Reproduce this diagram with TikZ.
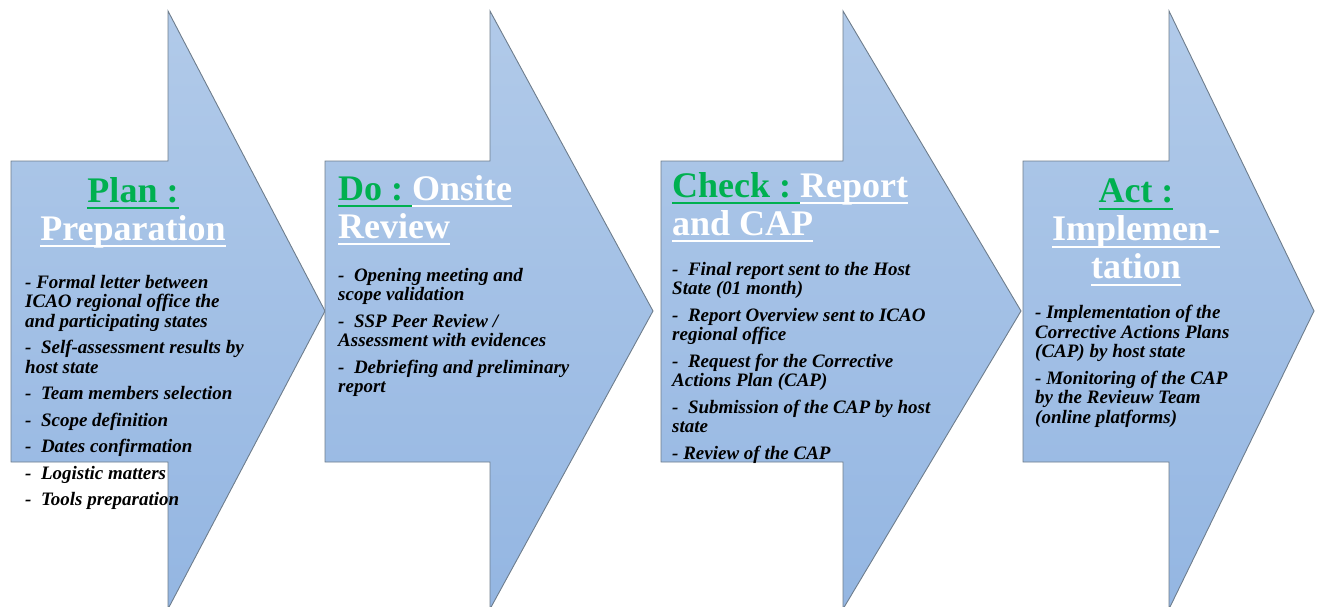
\documentclass[tikz,border=0pt]{standalone}
\usepackage{fontspec}
\setmainfont{Liberation Serif}

\definecolor{pdcagreen}{HTML}{00B050}
\definecolor{arrowtop}{HTML}{B1CAE9}
\definecolor{arrowbot}{HTML}{94B6E2}
\definecolor{arrowline}{HTML}{6E7D8C}

% underlined title word, rule in the current colour
\newcommand{\stageul}[1]{\sbox0{#1}\rlap{\rule[-7pt]{\wd0}{2.4pt}}\usebox0}

\tikzset{
	stagearrow/.style={draw=arrowline, line width=0.9pt, top color=arrowtop, bottom color=arrowbot},
	stagetitle/.style={inner sep=0pt, text=white, font=\fontsize{36}{38}\selectfont\bfseries},
	stagetext/.style={inner sep=0pt, align=left, anchor=north west, font=\fontsize{19}{19.5}\selectfont\bfseries\itshape},
}

% shaft left, head base, tip
\newcommand{\stageshape}[3]{%
	\path[stagearrow] (#1,161) -- (#2,161) -- (#2,11) -- (#3,311) -- (#2,609) -- (#2,462) -- (#1,462) -- cycle;}

\begin{document}
\begin{tikzpicture}[x=1pt, y=-1pt]
		\useasboundingbox (0,0) rectangle (1317,607);
		% Plan
		\stageshape{11}{168}{325}
		\node[stagetitle, anchor=north, align=center] (plantitle) at (133,177) {{\color{pdcagreen}\stageul{Plan :}}\\\stageul{Preparation}};
		\node[stagetext] (plantext) at (25,275) {-\ Formal letter between\\
			ICAO regional office the\\
			and participating states\\[7pt]
			-\ \ Self-assessment results by\\
			host state\\[7pt]
			-\ \ Team members selection\\[7pt]
			-\ \ Scope definition\\[7pt]
			-\ \ Dates confirmation\\[7pt]
			-\ \ Logistic matters\\[7pt]
			-\ \ Tools preparation};
		% Do
		\stageshape{325}{490}{653}
		\node[stagetitle, anchor=north west, align=left] (dotitle) at (338,175) {{\color{pdcagreen}\stageul{Do :\ }}\stageul{Onsite}\\\stageul{Review}};
		\node[stagetext] (dotext) at (338,268) {-\ \ Opening meeting and\\
			scope validation\\[7pt]
			-\ \ SSP Peer Review /\\
			Assessment with evidences\\[7pt]
			-\ \ Debriefing and preliminary\\
			report};
		% Check
		\stageshape{661}{843}{1021}
		\node[stagetitle, anchor=north west, align=left] (checktitle) at (672,172) {{\color{pdcagreen}\stageul{Check :\ }}\stageul{Report}\\\stageul{and CAP}};
		\node[stagetext] (checktext) at (672,262) {-\ \ Final report sent to the Host\\
			State (01 month)\\[7pt]
			-\ \ Report Overview sent to ICAO\\
			regional office\\[7pt]
			-\ \ Request for the Corrective\\
			Actions Plan (CAP)\\[7pt]
			-\ \ Submission of the CAP by host\\
			state\\[7pt]
			- Review of the CAP};
		% Act
		\stageshape{1023}{1169}{1314}
		\node[stagetitle, anchor=north, align=center] (acttitle) at (1136,179) {{\color{pdcagreen}\stageul{Act :}}\\\stageul{Implemen-}\\\stageul{tation}};
		\node[stagetext] (acttext) at (1035,305) {- Implementation of the\\
			Corrective Actions Plans\\
			(CAP) by host state\\[7pt]
			- Monitoring of the CAP\\
			by the Revieuw Team\\
			(online platforms)};
	\end{tikzpicture}
\end{document}
